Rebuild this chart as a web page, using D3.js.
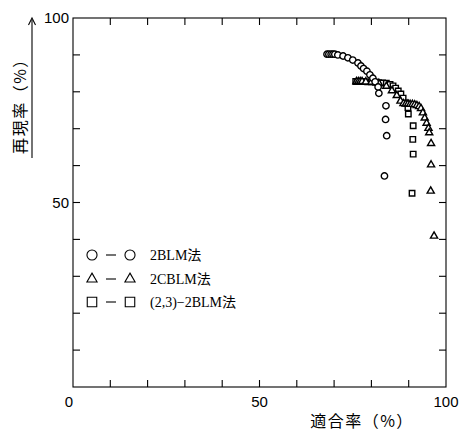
<!DOCTYPE html>
<html><head><meta charset="utf-8">
<script src="https://cdn.jsdelivr.net/npm/d3@7"></script>
<style>body{margin:0;background:#fff}</style>
</head><body>
<svg id="c" width="461" height="432"></svg>
<script>
const xTicks = [0,10,20,30,40,50,60,70,80,90,100];
const yTicks = [0,10,20,30,40,50,60,70,80,90,100];
const tickLabels = [0,50,100];
const seriesNames = ["2BLM法","2CBLM法","(2,3)−2BLM法"];
const xTitle = "適合率（%）";
const yTitle = "再現率（%）";

// 2BLM (circles): [precision, recall]
const circles = [
 [68.1,90.2],[68.6,90.2],[69.2,90.2],[69.7,90.2],[70.2,90.2],[71.0,90.0],[72.4,89.7],[73.7,89.2],
 [75.0,88.6],[76.4,87.8],[77.2,87.0],[77.9,86.3],[78.8,85.6],[79.6,84.6],[80.4,83.7],[81.0,82.7],
 [81.8,81.3],[82.0,79.6],[83.9,76.2],[83.8,72.5],[84.1,68.1],[83.5,57.2]
];
// 2CBLM (triangles)
const triangles = [
 [76.0,82.8],[76.5,82.8],[77.0,82.8],[77.5,82.8],[78.5,82.7],[80.0,82.6],[82.0,82.3],[84.0,81.5],
 [85.5,80.3],[86.8,79.0],[87.8,77.5],[88.6,76.8],[89.2,76.7],[89.8,76.7],[90.4,76.6],[91.0,76.6],
 [91.6,76.5],[92.2,76.3],[92.8,76.0],[93.3,75.5],[93.8,74.3],[94.3,72.9],[94.8,71.5],[95.3,70.1],
 [95.5,68.9],[96.0,66.0],[96.0,60.2],[95.9,53.1],[96.8,40.9]
];
// (2,3)-2BLM (squares)
const squares = [
 [75.8,82.8],[76.3,82.8],[76.8,82.8],[77.3,82.8],[78.0,82.8],[79.0,82.7],[80.0,82.7],[81.0,82.6],
 [82.0,82.5],[83.0,82.4],[84.0,82.3],[85.0,82.0],[85.8,81.6],[86.5,81.0],[87.2,80.2],[87.9,79.4],
 [88.5,78.3],[89.2,77.0],[89.8,75.7],[89.9,74.0],[91.2,70.8],[91.1,67.1],[91.2,63.1],[90.9,52.5]
];

const svg = d3.select("#c");
const x = d3.scaleLinear().domain([0,100]).range([73,446]);
const y = d3.scaleLinear().domain([0,100]).range([387,18]);
const numFont = "'Liberation Sans', Arial, sans-serif";
const jpFont = "'Noto Sans CJK JP', sans-serif";

// frame
svg.append("rect").attr("x",x(0)).attr("y",y(100)).attr("width",x(100)-x(0)).attr("height",y(0)-y(100))
  .attr("fill","none").attr("stroke","#000").attr("stroke-width",1.1);

const tl = 7;
const g = svg.append("g").attr("stroke","#000").attr("stroke-width",1.1);
xTicks.slice(1,-1).forEach(v=>{
  g.append("line").attr("x1",x(v)).attr("x2",x(v)).attr("y1",y(0)).attr("y2",y(0)-tl);
  g.append("line").attr("x1",x(v)).attr("x2",x(v)).attr("y1",y(100)).attr("y2",y(100)+tl);
});
yTicks.slice(1,-1).forEach(v=>{
  g.append("line").attr("x1",x(0)).attr("x2",x(0)+tl).attr("y1",y(v)).attr("y2",y(v));
  g.append("line").attr("x1",x(100)).attr("x2",x(100)-tl).attr("y1",y(v)).attr("y2",y(v));
});

// tick labels
tickLabels.forEach(v=>{
  svg.append("text").attr("x", v===0 ? x(v)-4 : x(v)).attr("y",407).attr("text-anchor","middle")
    .attr("font-family",numFont).attr("font-size",15).text(v);
  if(v>0) svg.append("text").attr("x",x(0)-4).attr("y",y(v)+5).attr("text-anchor","end")
    .attr("font-family",numFont).attr("font-size",15).text(v);
});

// axis titles
svg.append("text").attr("x",362).attr("y",427).attr("text-anchor","middle")
  .attr("font-family",jpFont).attr("font-size",16).attr("letter-spacing",1.5).text(xTitle);
svg.append("text").attr("transform","translate(26,102) rotate(-90)").attr("text-anchor","middle")
  .attr("font-family",jpFont).attr("font-size",16).attr("letter-spacing",1.5).text(yTitle);
svg.append("line").attr("x1",32).attr("x2",32).attr("y1",158).attr("y2",20).attr("stroke","#000").attr("stroke-width",1.1);
svg.append("path").attr("d","M28.5,25 L32,18 L35.5,25").attr("fill","none").attr("stroke","#000").attr("stroke-width",1.1);

// markers
const sym = {
  circle: d3.symbol().type(d3.symbolCircle),
  triangle: d3.symbol().type(d3.symbolTriangle),
  square: d3.symbol().type(d3.symbolSquare)
};
function drawSeries(data, type, size){
  svg.append("g").selectAll("path").data(data).join("path")
    .attr("transform",d=>`translate(${x(d[0])},${y(d[1])})`)
    .attr("d",sym[type].size(size)())
    .attr("fill","#fff").attr("stroke","#000").attr("stroke-width",1.4);
}
drawSeries(squares,"square",30);
drawSeries(triangles,"triangle",22);
drawSeries(circles,"circle",32);

// legend
const legTypes = ["circle","triangle","square"];
const legY = [255,279,302];
legTypes.forEach((t,i)=>{
  const s = t==="circle"?80:(t==="triangle"?45:90);
  [92,130].forEach(cx=>{
    svg.append("path").attr("transform",`translate(${cx},${legY[i]})`)
      .attr("d",sym[t].size(s)()).attr("fill","none").attr("stroke","#000").attr("stroke-width",1.1);
  });
  svg.append("line").attr("x1",106).attr("x2",116).attr("y1",legY[i]).attr("y2",legY[i])
    .attr("stroke","#000").attr("stroke-width",1.1);
  svg.append("text").attr("x",150).attr("y",legY[i]+5)
    .attr("font-family","'Liberation Serif', 'Noto Sans CJK JP', serif").attr("font-size",14).text(seriesNames[i]);
});
</script>
</body></html>
